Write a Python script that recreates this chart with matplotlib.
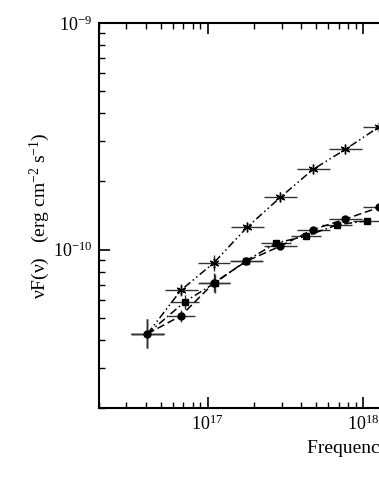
import numpy as np
import matplotlib
matplotlib.use('Agg')
import matplotlib.pyplot as plt
from matplotlib.ticker import LogLocator, NullFormatter

plt.rcParams['font.family'] = 'Liberation Serif'
plt.rcParams['mathtext.fontset'] = 'custom'
plt.rcParams['mathtext.rm'] = 'Liberation Serif'
plt.rcParams['mathtext.it'] = 'Liberation Serif:italic'

# star points (dash-dot-dot line)
nu_star = [4.10e16, 6.76e16, 1.10e17, 1.80e17, 2.94e17, 4.78e17, 7.73e17, 1.27e18]
f_star = [4.25e-11, 6.63e-11, 8.76e-11, 1.256e-10, 1.70e-10, 2.26e-10, 2.77e-10, 3.48e-10]
dx_star = [0.106, 0.106, 0.106, 0.106, 0.106, 0.106, 0.106, 0.106]   # half widths, dex
dy_star = [0.064, 0.026, 0.035, 0.012, 0.01, 0.01, 0.01, 0.01]

# circle points (dashed line)
nu_circ = [4.10e16, 6.76e16, 1.10e17, 1.78e17, 2.94e17, 4.78e17, 7.73e17, 1.27e18]
f_circ = [4.25e-11, 5.11e-11, 7.14e-11, 8.89e-11, 1.036e-10, 1.226e-10, 1.364e-10, 1.535e-10]
dx_circ = [0.106, 0.087, 0.106, 0.106, 0.106, 0.106, 0.106, 0.106]
dy_circ = [0.064, 0.027, 0.042, 0.01, 0.01, 0.01, 0.01, 0.01]

# square points (dash-dot line)
nu_sq = [4.10e16, 7.14e16, 1.11e17, 1.78e17, 2.77e17, 4.33e17, 6.82e17, 1.07e18]
f_sq = [4.25e-11, 5.89e-11, 7.11e-11, 8.94e-11, 1.069e-10, 1.148e-10, 1.286e-10, 1.34e-10]
dx_sq = [0.106, 0.094, 0.1, 0.097, 0.097, 0.097, 0.094, 0.094]
dy_sq = [0.064, 0.031, 0.042, 0.01, 0.01, 0.01, 0.01, 0.01]


def errs(vals, dex):
    v = np.array(vals)
    d = np.array(dex)
    return [v - v / 10**d, v * 10**d - v]


fig = plt.figure(figsize=(3.79, 4.91), dpi=100)
# axes run past the right edge of the picture, as in the reference crop
ax = fig.add_axes([99/379, 83/491, 540/379, 385/491])
ax.set_xscale('log')
ax.set_yscale('log')

series = [
    (nu_circ, f_circ, dx_circ, dy_circ, 'o', 5, (5, 2.5)),
    (nu_sq, f_sq, dx_sq, dy_sq, 's', 4.5, (5, 2, 1, 2)),
    (nu_star, f_star, dx_star, dy_star, (6, 2, 0), 7, (5, 2, 1, 2, 1, 2)),
]
for i, (nu, f, dx, dy, mk, ms, dash) in enumerate(series):
    ax.errorbar(nu, f, xerr=errs(nu, dx), yerr=errs(f, dy), fmt='none',
                ecolor='0.2', elinewidth=1.0, capsize=0, zorder=2)
    ax.plot(nu, f, color='k', lw=1.1, dashes=dash, zorder=3)
    start = 0 if i == 0 else 1
    ax.plot(nu[start:], f[start:], ls='none', marker=mk, ms=ms, color='k',
            mec='k', mew=1.0, zorder=4)

ax.set_xlim(2e16, 6e19)
ax.set_ylim(2e-11, 1e-9)

ax.xaxis.set_minor_locator(LogLocator(base=10, subs=np.arange(2, 10)))
ax.yaxis.set_minor_locator(LogLocator(base=10, subs=np.arange(2, 10)))
ax.xaxis.set_minor_formatter(NullFormatter())
ax.yaxis.set_minor_formatter(NullFormatter())

ax.tick_params(which='both', direction='in', top=True, right=True,
               labelsize=13, pad=5)
ax.tick_params(which='major', length=8, width=1.2)
ax.tick_params(which='minor', length=4, width=1.0)
for s in ax.spines.values():
    s.set_linewidth(1.5)

ax.set_xlabel('Frequency (Hz)', fontsize=14)
ax.xaxis.set_label_coords(0.5, -0.083)
ax.set_ylabel('νF(ν)   (erg cm$^{-2}$ s$^{-1}$)', fontsize=14)
ax.yaxis.set_label_coords(-0.087, 0.5)

fig.savefig('out.png', dpi=100)
